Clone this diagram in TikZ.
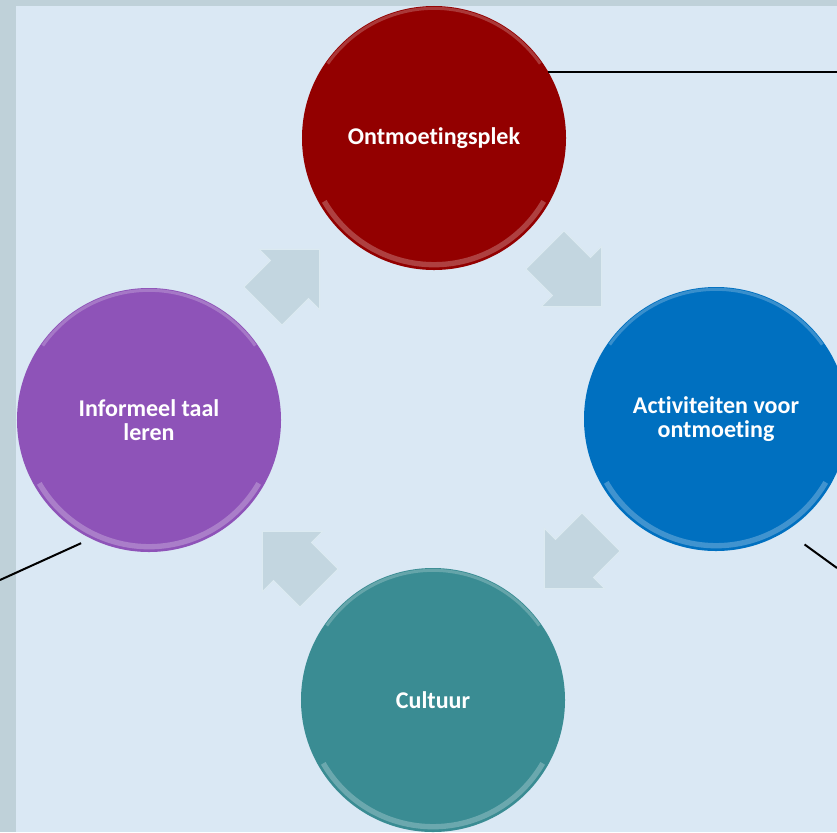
\documentclass[tikz,border=0pt]{standalone}
\usepackage{fontspec}
\setmainfont{Carlito}[Ligatures=NoCommon]
\usepackage{tikz}
\usetikzlibrary{shapes,shapes.arrows,calc,positioning}
\definecolor{frame}{HTML}{BFD1D9}
\definecolor{paper}{HTML}{DAE8F4}
\definecolor{plekred}{HTML}{930000}
\definecolor{activblue}{HTML}{0070C0}
\definecolor{cultteal}{HTML}{3A8C93}
\definecolor{taalpurple}{HTML}{8E53B8}
\definecolor{arrowfill}{HTML}{C3D6E0}
\definecolor{arrowrim}{HTML}{DCEAF1}
\tikzstyle{ball}  =[circle, minimum size=7.92cm, inner sep=0pt,
                    outer sep=0pt, text=white, align=center,
                    font=\bfseries\fontsize{20.5}{21}\selectfont]
\tikzstyle{cyclearrow}=[single arrow, fill=arrowfill, draw=arrowrim,
                    line width=0.8pt, inner xsep=0pt, inner ysep=0.795cm,
                    minimum height=2.4cm, minimum width=2.52cm,
                    single arrow head extend=0.47cm,
                    single arrow tip angle=90, anchor=tail]
\tikzstyle{rimtop}=[line width=0.09cm, white, opacity=0.22]
\tikzstyle{rimlow}=[line width=0.16cm, white, opacity=0.25]
\tikzstyle{callout}=[line width=0.06cm, black]
\begin{document}
\begin{tikzpicture}[x=0.03cm, y=0.03cm]
    \useasboundingbox (0,0) rectangle (837,-832);
    \clip (0,0) rectangle (837,-832);
    \fill[frame] (0,0) rectangle (837,-832);
    \fill[paper] (16,-6) rectangle (837,-832);
    \begin{scope}
        \node (plek) [ball, fill=plekred] at (434,-138) {Ontmoetingsplek};
        \node (activ) [ball, fill=activblue] at (716,-419) {Activiteiten voor\\ontmoeting};
        \node (cultuur) [ball, fill=cultteal] at (433,-700) {Cultuur};
        \node (taal) [ball, fill=taalpurple] at (149,-420) {Informeel taal\\leren};
        \foreach \n in {plek,activ,cultuur,taal} {
            \draw[rimtop] ([shift={(35:3.89cm)}]\n.center) arc (35:145:3.89cm);
            \draw[rimlow] ([shift={(210:3.8cm)}]\n.center) arc (210:330:3.8cm);
        }
        \node (ua) [cyclearrow, rotate=45] at (262.7,-306.3) {};
        \node (ub) [cyclearrow, rotate=-45] at (544.7,-249.7) {};
        \node (uc) [cyclearrow, rotate=-135] at (601.3,-531.7) {};
        \node (ud) [cyclearrow, rotate=135] at (319.3,-588.3) {};
        \coordinate (topend) at (837,-71);
        \coordinate (rgtend) at (837,-568);
        \coordinate (lftend) at (0,-580);
        \draw[callout] (plek.30.5) to (plek.30.5 -| topend);
        \draw[callout, shorten <=0.69cm] (activ.-58) to (rgtend);
        \draw[callout, shorten <=0.33cm] (taal.-116) to (lftend);
    \end{scope}
\end{tikzpicture}
\end{document}
